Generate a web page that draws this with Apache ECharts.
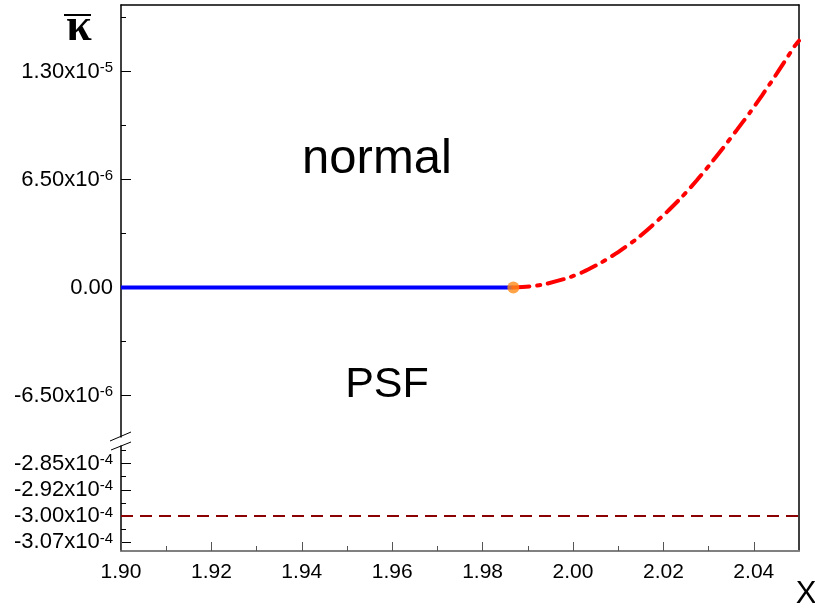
<!DOCTYPE html>
<html><head><meta charset="utf-8">
<script src="https://cdn.jsdelivr.net/npm/echarts@6/dist/echarts.min.js"></script>
<style>html,body{margin:0;padding:0;background:#fff}#c{width:815px;height:612px}</style>
</head><body><div id="c"></div>
<script>
// ---- data ----
var blueX = [1.90, 1.9868];
var blueY = [0, 0];
var redX = [1.9868, 1.9912, 1.9938, 1.9987, 2.0022, 2.0060, 2.0100, 2.0142, 2.0175, 2.0208, 2.0241, 2.0274, 2.0303, 2.0332, 2.0363, 2.0392, 2.0418, 2.0443, 2.0467, 2.0491, 2.0500];
var redY = [0, 0.08e-6, 0.20e-6, 0.56e-6, 0.93e-6, 1.46e-6, 2.13e-6, 2.95e-6, 3.72e-6, 4.55e-6, 5.45e-6, 6.45e-6, 7.40e-6, 8.40e-6, 9.50e-6, 10.55e-6, 11.55e-6, 12.55e-6, 13.55e-6, 14.55e-6, 14.85e-6];
var pointX = [1.9868];
var pointY = [0];
var lowerX = [1.90, 2.05];
var lowerY = [-3.0e-4, -3.0e-4];

var xTicks = [1.90, 1.92, 1.94, 1.96, 1.98, 2.00, 2.02, 2.04];
var xTickLabels = ['1.90', '1.92', '1.94', '1.96', '1.98', '2.00', '2.02', '2.04'];
var xMinor = [1.91, 1.93, 1.95, 1.97, 1.99, 2.01, 2.03];

var upperTicks = [-6.5e-6, 0, 6.5e-6, 1.3e-5];
var upperMant = ['-6.50x10', '0.00', '6.50x10', '1.30x10'];
var upperExp = ['-6', '', '-6', '-5'];
var upperMinor = [-3.25e-6, 3.25e-6, 9.75e-6, 1.625e-5];

var lowerTicks = [-2.85e-4, -2.925e-4, -3.0e-4, -3.075e-4];
var lowerMant = ['-2.85x10', '-2.92x10', '-3.00x10', '-3.07x10'];
var lowerExp = ['-4', '-4', '-4', '-4'];
var lowerMinor = [-2.8125e-4, -2.8875e-4, -2.9625e-4, -3.0375e-4];

function zip(a, b) { return a.map(function (v, i) { return [v, b[i]]; }); }
function findIdx(arr, v) {
  for (var i = 0; i < arr.length; i++) if (Math.abs(arr[i] - v) < Math.abs(arr[i]) * 1e-6 + 1e-12) return i;
  return -1;
}
var FONT = '"Liberation Sans", Arial, sans-serif';
var rich = {
  m: { fontSize: 22, fontFamily: FONT, color: '#000' },
  e: { fontSize: 15, fontFamily: FONT, color: '#000', verticalAlign: 'top', lineHeight: 14 }
};
function yFmt(ticks, mant, exp) {
  return function (v) {
    var i = findIdx(ticks, v);
    if (i < 0) return '';
    return exp[i] ? '{m|' + mant[i] + '}{e|' + exp[i] + '}' : '{m|' + mant[i] + '}';
  };
}

var L = 121, R = 16;
var G1top = 5, G1h = 432, G2top = 446, G2h = 105;

function hiddenX(g) {
  return { gridIndex: g, type: 'value', min: 1.90, max: 2.05, show: false };
}

var chart = echarts.init(document.getElementById('c'));
chart.setOption({
  animation: false,
  grid: [
    { left: L, right: R, top: G1top, height: G1h },
    { left: L, right: R, top: G2top, height: G2h },
    { left: L, right: R, top: G1top, height: G2top + G2h - G1top }
  ],
  xAxis: [
    { gridIndex: 0, type: 'value', min: 1.90, max: 2.05, position: 'top',
      axisLine: { show: true, onZero: false, lineStyle: { color: '#000', width: 1.5 } },
      axisTick: { show: false }, axisLabel: { show: false }, splitLine: { show: false } },
    { gridIndex: 1, type: 'value', min: 1.90, max: 2.05, position: 'bottom',
      axisLine: { show: true, onZero: false, lineStyle: { color: '#808080', width: 2 } },
      axisTick: { show: true, inside: true, length: 9, customValues: xTicks, lineStyle: { color: '#555', width: 1 } },
      axisLabel: { show: true, customValues: xTicks, margin: 11, fontSize: 21, fontFamily: FONT, color: '#000',
        formatter: function (v) { var i = findIdx(xTicks, v); return i < 0 ? '' : xTickLabels[i]; } },
      splitLine: { show: false } },
    { gridIndex: 1, type: 'value', min: 1.90, max: 2.05, position: 'bottom',
      axisLine: { show: false, onZero: false },
      axisTick: { show: true, inside: true, length: 5, customValues: xMinor, lineStyle: { color: '#555', width: 1 } },
      axisLabel: { show: false }, splitLine: { show: false } },
    hiddenX(2)
  ],
  yAxis: [
    { gridIndex: 0, type: 'value', min: -9e-6, max: 1.7e-5, position: 'left',
      axisLine: { show: true, onZero: false, lineStyle: { color: '#000', width: 1.5 } },
      axisTick: { show: true, inside: true, length: 10, customValues: upperTicks, lineStyle: { color: '#000', width: 1 } },
      axisLabel: { show: true, customValues: upperTicks, margin: 8, formatter: yFmt(upperTicks, upperMant, upperExp), rich: rich },
      splitLine: { show: false } },
    { gridIndex: 0, type: 'value', min: -9e-6, max: 1.7e-5, position: 'left',
      axisLine: { show: false, onZero: false },
      axisTick: { show: true, inside: true, length: 5, customValues: upperMinor, lineStyle: { color: '#000', width: 1 } },
      axisLabel: { show: false }, splitLine: { show: false } },
    { gridIndex: 1, type: 'value', min: -3.1e-4, max: -2.8e-4, position: 'left',
      axisLine: { show: true, onZero: false, lineStyle: { color: '#000', width: 1.5 } },
      axisTick: { show: true, inside: true, length: 10, customValues: lowerTicks, lineStyle: { color: '#000', width: 1 } },
      axisLabel: { show: true, customValues: lowerTicks, margin: 8, formatter: yFmt(lowerTicks, lowerMant, lowerExp), rich: rich },
      splitLine: { show: false } },
    { gridIndex: 1, type: 'value', min: -3.1e-4, max: -2.8e-4, position: 'left',
      axisLine: { show: false, onZero: false },
      axisTick: { show: true, inside: true, length: 5, customValues: lowerMinor, lineStyle: { color: '#000', width: 1 } },
      axisLabel: { show: false }, splitLine: { show: false } },
    { gridIndex: 2, type: 'value', min: 0, max: 1, position: 'right',
      axisLine: { show: true, onZero: false, lineStyle: { color: '#000', width: 1.5 } },
      axisTick: { show: false }, axisLabel: { show: false }, splitLine: { show: false } }
  ],
  series: [
    { type: 'line', xAxisIndex: 0, yAxisIndex: 0, data: zip(blueX, blueY), showSymbol: false,
      lineStyle: { color: '#0000ff', width: 4 }, z: 3 },
    { type: 'line', xAxisIndex: 0, yAxisIndex: 0, data: zip(redX, redY), showSymbol: false, smooth: 0.2,
      lineStyle: { color: '#ff0000', width: 4, type: [16, 8, 3, 8], cap: 'round' }, z: 3 },
    { type: 'scatter', xAxisIndex: 0, yAxisIndex: 0, data: zip(pointX, pointY), symbolSize: 12,
      itemStyle: { color: '#ff8c1a' }, z: 5 },
    { type: 'line', xAxisIndex: 1, yAxisIndex: 2, data: zip(lowerX, lowerY), showSymbol: false,
      lineStyle: { color: '#8b0000', width: 2, type: [12, 7] }, z: 3 }
  ],
  graphic: [
    { type: 'text', style: { text: 'normal', x: 377, y: 159, textAlign: 'center', textVerticalAlign: 'middle',
      font: '49px "Liberation Sans", Arial, sans-serif', fill: '#000' } },
    { type: 'text', style: { text: 'PSF', x: 387, y: 385, textAlign: 'center', textVerticalAlign: 'middle',
      font: '43px "Liberation Sans", Arial, sans-serif', fill: '#000' } },
    { type: 'text', style: { text: 'X', x: 806, y: 594, textAlign: 'center', textVerticalAlign: 'middle',
      font: '31px "Liberation Sans", Arial, sans-serif', fill: '#000' } },
    { type: 'text', style: { text: 'κ', x: 79, y: 28, textAlign: 'center', textVerticalAlign: 'middle',
      font: 'bold 46px "Liberation Serif", "Times New Roman", serif', fill: '#000' } },
    { type: 'line', shape: { x1: 64, y1: 15, x2: 91, y2: 15 }, style: { stroke: '#000', lineWidth: 2 } },
    { type: 'line', shape: { x1: 110, y1: 441, x2: 131, y2: 432 }, style: { stroke: '#000', lineWidth: 1 } },
    { type: 'line', shape: { x1: 111, y1: 450, x2: 131, y2: 442 }, style: { stroke: '#000', lineWidth: 1 } }
  ]
});
</script></body></html>
